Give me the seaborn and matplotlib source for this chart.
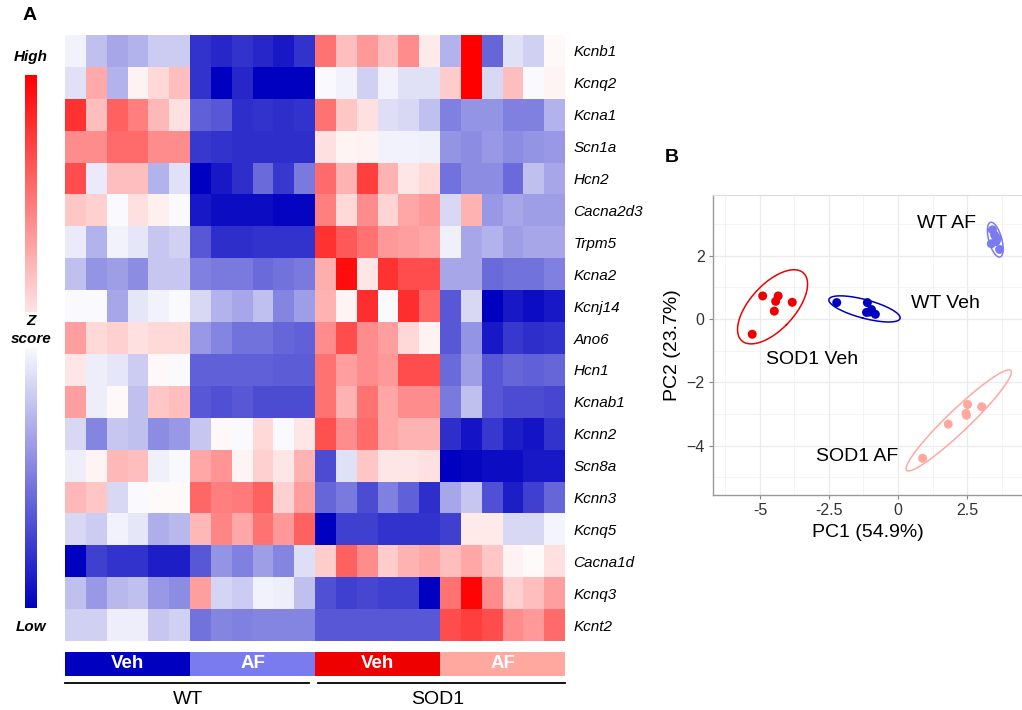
import numpy as np
import pandas as pd
import seaborn as sns
import matplotlib.pyplot as plt
from matplotlib.colors import LinearSegmentedColormap, ListedColormap
from matplotlib.lines import Line2D

plt.rcParams['font.family'] = ['Liberation Sans', 'DejaVu Sans']

genes = ["Kcnb1", "Kcnq2", "Kcna1", "Scn1a", "Hcn2", "Cacna2d3", "Trpm5", "Kcna2",
         "Kcnj14", "Ano6", "Hcn1", "Kcnab1", "Kcnn2", "Scn8a", "Kcnn3", "Kcnq5",
         "Cacna1d", "Kcnq3", "Kcnt2"]

# z scores, one row per gene, 6 animals per group
z_wt_veh = [
    [-0.05, -0.25, -0.35, -0.30, -0.20, -0.20],
    [-0.12, 0.33, -0.30, 0.05, 0.15, 0.25],
    [0.80, 0.25, 0.62, 0.50, 0.28, 0.12],
    [0.45, 0.45, 0.58, 0.58, 0.45, 0.45],
    [0.70, -0.08, 0.25, 0.25, -0.30, -0.12],
    [0.22, 0.18, -0.02, 0.12, 0.06, -0.02],
    [-0.08, -0.30, -0.05, -0.10, -0.22, -0.18],
    [-0.25, -0.42, -0.38, -0.45, -0.22, -0.22],
    [-0.02, -0.02, -0.35, -0.10, -0.05, -0.02],
    [0.38, 0.15, 0.18, 0.12, 0.15, 0.15],
    [0.10, -0.07, -0.10, -0.20, 0.03, -0.02],
    [0.38, -0.07, 0.03, -0.25, 0.22, 0.25],
    [-0.15, -0.48, -0.22, -0.25, -0.45, -0.40],
    [-0.07, 0.04, 0.28, 0.25, -0.06, -0.03],
    [0.28, 0.22, -0.15, -0.02, 0.02, 0.02],
    [-0.15, -0.20, -0.05, -0.10, -0.32, -0.28],
    [-1.00, -0.75, -0.80, -0.80, -0.88, -0.88],
    [-0.25, -0.40, -0.28, -0.25, -0.40, -0.45],
    [-0.18, -0.18, -0.07, -0.07, -0.22, -0.18],
]
z_wt_af = [
    [-0.80, -0.85, -0.80, -0.85, -0.90, -0.80],
    [-0.80, -1.00, -0.85, -1.00, -1.00, -1.00],
    [-0.62, -0.65, -0.82, -0.80, -0.82, -0.80],
    [-0.78, -0.80, -0.82, -0.82, -0.82, -0.82],
    [-1.00, -0.90, -0.82, -0.58, -0.78, -0.52],
    [-0.90, -0.95, -0.95, -0.95, -0.98, -0.98],
    [-0.65, -0.82, -0.82, -0.80, -0.80, -0.80],
    [-0.50, -0.52, -0.52, -0.58, -0.55, -0.52],
    [-0.15, -0.30, -0.35, -0.25, -0.48, -0.38],
    [-0.40, -0.48, -0.55, -0.55, -0.60, -0.62],
    [-0.62, -0.62, -0.62, -0.62, -0.64, -0.64],
    [-0.65, -0.68, -0.65, -0.70, -0.70, -0.70],
    [-0.22, 0.03, -0.02, 0.15, -0.02, 0.10],
    [0.35, 0.42, 0.04, 0.18, 0.10, 0.30],
    [0.60, 0.50, 0.52, 0.62, 0.18, 0.38],
    [0.28, 0.48, 0.35, 0.55, 0.40, 0.62],
    [-0.65, -0.42, -0.50, -0.38, -0.48, -0.13],
    [0.38, -0.17, -0.20, -0.05, -0.07, -0.25],
    [-0.55, -0.48, -0.50, -0.48, -0.48, -0.48],
]
z_sod1_veh = [
    [0.55, 0.25, 0.40, 0.25, 0.45, 0.08],
    [-0.02, -0.05, -0.18, -0.05, -0.12, -0.12],
    [0.55, 0.22, 0.12, -0.13, -0.15, -0.25],
    [0.12, 0.04, 0.05, -0.05, -0.05, -0.06],
    [0.58, 0.30, 0.75, 0.30, 0.10, 0.15],
    [0.50, 0.15, 0.45, 0.17, 0.35, 0.40],
    [0.80, 0.65, 0.55, 0.40, 0.38, 0.35],
    [0.32, 0.95, 0.10, 0.80, 0.70, 0.70],
    [0.30, 0.04, 0.82, -0.02, 0.82, 0.60],
    [0.45, 0.70, 0.45, 0.38, 0.15, 0.05],
    [0.55, 0.38, 0.45, 0.40, 0.70, 0.70],
    [0.55, 0.30, 0.55, 0.35, 0.45, 0.45],
    [0.68, 0.45, 0.58, 0.35, 0.30, 0.30],
    [-0.70, -0.12, 0.22, 0.10, 0.10, 0.12],
    [-0.60, -0.52, -0.70, -0.50, -0.62, -0.82],
    [-1.00, -0.75, -0.75, -0.80, -0.80, -0.80],
    [0.20, 0.62, 0.45, 0.20, 0.30, 0.35],
    [-0.68, -0.75, -0.72, -0.75, -0.75, -1.00],
    [-0.65, -0.65, -0.65, -0.65, -0.65, -0.65],
]
z_sod1_af = [
    [-0.30, 1.00, -0.60, -0.12, -0.18, 0.03],
    [0.20, 1.00, -0.15, 0.25, -0.02, 0.04],
    [-0.50, -0.42, -0.42, -0.50, -0.50, -0.30],
    [-0.42, -0.45, -0.40, -0.45, -0.42, -0.40],
    [-0.55, -0.45, -0.45, -0.58, -0.25, -0.35],
    [-0.15, 0.30, -0.40, -0.35, -0.38, -0.38],
    [-0.06, -0.35, -0.30, -0.38, -0.35, -0.35],
    [-0.35, -0.35, -0.58, -0.55, -0.55, -0.50],
    [-0.65, -0.15, -1.00, -0.90, -0.95, -0.90],
    [-0.65, -0.42, -0.90, -0.78, -0.82, -0.80],
    [-0.58, -0.38, -0.65, -0.60, -0.62, -0.60],
    [-0.52, -0.25, -0.65, -0.70, -0.70, -0.72],
    [-0.82, -0.92, -0.78, -0.88, -0.92, -0.80],
    [-1.00, -0.97, -0.95, -0.95, -0.90, -0.90],
    [-0.35, -0.22, -0.68, -0.88, -0.75, -0.60],
    [-0.75, 0.08, 0.08, -0.15, -0.15, -0.04],
    [0.25, 0.35, 0.22, 0.05, 0.02, 0.12],
    [0.55, 0.98, 0.45, 0.18, 0.25, 0.38],
    [0.70, 0.75, 0.70, 0.45, 0.40, 0.58],
]

# PCA scores
pc1_wt_veh = [-2.22, -1.11, -0.96, -1.14, -0.82, -1.03]
pc2_wt_veh = [0.52, 0.52, 0.30, 0.21, 0.15, 0.22]
pc1_wt_af = [3.42, 3.50, 3.60, 3.38, 3.55, 3.68]
pc2_wt_af = [2.82, 2.65, 2.55, 2.38, 2.45, 2.20]
pc1_sod1_veh = [-4.90, -4.34, -4.43, -4.48, -3.83, -5.28]
pc2_sod1_veh = [0.73, 0.73, 0.56, 0.25, 0.53, -0.48]
pc1_sod1_af = [2.52, 3.03, 2.46, 2.48, 1.82, 0.89]
pc2_sod1_af = [-2.70, -2.77, -2.98, -3.04, -3.32, -4.40]

group_colors = {"WT Veh": "#0000C0", "WT AF": "#7B7BF0",
                "SOD1 Veh": "#EE0000", "SOD1 AF": "#FFA8A0"}

W, H = 1022, 710
fig = plt.figure(figsize=(W / 100, H / 100), dpi=100)


def fx(px):
    return px / W


def fy(py):
    return 1 - py / H


# ---- heatmap (A)
mat = np.hstack([np.array(z_wt_veh), np.array(z_wt_af),
                 np.array(z_sod1_veh), np.array(z_sod1_af)])
df = pd.DataFrame(mat, index=genes)
cmap = LinearSegmentedColormap.from_list("z", ["#0000C0", "#FFFFFF", "#FF0000"])

ax_h = fig.add_axes([fx(65), fy(641), fx(500), 606 / H])
ax_cb = fig.add_axes([fx(25), fy(608), fx(12), 533 / H])
sns.heatmap(df, cmap=cmap, vmin=-1, vmax=1, ax=ax_h, cbar_ax=ax_cb,
            xticklabels=False, yticklabels=True)
ax_h.yaxis.tick_right()
ax_h.set_yticklabels(genes, rotation=0, fontstyle='italic', fontsize=11)
ax_h.tick_params(axis='y', length=0, pad=6)
ax_h.set_ylabel('')
cbar = ax_h.collections[0].colorbar
cbar.outline.set_visible(False)
cbar.set_ticks([])

fig.text(fx(30), fy(15), "A", fontsize=14, fontweight='bold', ha='center', va='center')
fig.text(fx(31), fy(57), "High", fontsize=11, fontweight='bold', fontstyle='italic',
         ha='center', va='center')
fig.text(fx(31), fy(330), "Z\nscore", fontsize=11, fontweight='bold', fontstyle='italic',
         ha='center', va='center', linespacing=1.3,
         bbox=dict(facecolor='white', edgecolor='none', pad=2))
fig.text(fx(31), fy(627), "Low", fontsize=11, fontweight='bold', fontstyle='italic',
         ha='center', va='center')

# group annotation bar
ax_a = fig.add_axes([fx(65), fy(676), fx(500), 24 / H])
codes = [[0] * 6 + [1] * 6 + [2] * 6 + [3] * 6]
sns.heatmap(codes, cmap=ListedColormap(list(group_colors.values())), vmin=-0.5, vmax=3.5,
            cbar=False, ax=ax_a, xticklabels=False, yticklabels=False)
for i, lab in enumerate(["Veh", "AF", "Veh", "AF"]):
    ax_a.text(i * 6 + 3, 0.5, lab, color='white', fontsize=13.5, fontweight='bold',
              ha='center', va='center')

fig.add_artist(Line2D([fx(65), fx(309)], [fy(683), fy(683)], color='black', lw=1.3))
fig.add_artist(Line2D([fx(318), fx(565)], [fy(683), fy(683)], color='black', lw=1.3))
fig.text(fx(188), fy(700), "WT", fontsize=14, ha='center', va='center')
fig.text(fx(438), fy(700), "SOD1", fontsize=14, ha='center', va='center')

# ---- PCA (B)
pca = pd.DataFrame({
    "PC1": pc1_wt_veh + pc1_wt_af + pc1_sod1_veh + pc1_sod1_af,
    "PC2": pc2_wt_veh + pc2_wt_af + pc2_sod1_veh + pc2_sod1_af,
    "group": ["WT Veh"] * 6 + ["WT AF"] * 6 + ["SOD1 Veh"] * 6 + ["SOD1 AF"] * 6,
})

ax_p = fig.add_axes([fx(713), fy(495), fx(309), 300 / H])
sns.scatterplot(data=pca, x="PC1", y="PC2", hue="group", palette=group_colors,
                s=42, edgecolor='none', legend=False, ax=ax_p, zorder=3)

# 95% ellipse per group
t = np.linspace(0, 2 * np.pi, 200)
for g, sub in pca.groupby("group"):
    xy = sub[["PC1", "PC2"]].to_numpy()
    mu = xy.mean(axis=0)
    vals, vecs = np.linalg.eigh(np.cov(xy.T))
    circ = np.vstack([np.cos(t), np.sin(t)]) * np.sqrt(6.5 * vals)[:, None]
    ell = vecs @ circ + mu[:, None]
    ax_p.plot(ell[0], ell[1], color=group_colors[g], lw=1.1, zorder=2)

ax_p.set_xlim(-6.70, 4.49)
ax_p.set_ylim(-5.56, 3.92)
ax_p.set_xticks([-5, -2.5, 0, 2.5])
ax_p.set_xticklabels(["-5", "-2.5", "0", "2.5"])
ax_p.set_xticks([-6.25, -3.75, -1.25, 1.25, 3.75], minor=True)
ax_p.set_yticks([-4, -2, 0, 2])
ax_p.set_yticks([-5, -3, -1, 1, 3], minor=True)
ax_p.grid(which='major', color='#EBEBEB', lw=0.9)
ax_p.grid(which='minor', color='#F2F2F2', lw=0.6)
ax_p.set_axisbelow(True)
ax_p.tick_params(which='major', length=3, color='#888888', labelsize=11.5,
                 labelcolor='#333333', pad=3)
ax_p.tick_params(which='minor', length=0)
for side in ["left", "bottom"]:
    ax_p.spines[side].set_color('#999999')
    ax_p.spines[side].set_linewidth(1.0)
ax_p.spines["top"].set_color('#DDDDDD')
ax_p.spines["right"].set_visible(False)
ax_p.set_xlabel("PC1 (54.9%)", fontsize=14, labelpad=4)
ax_p.set_ylabel("PC2 (23.7%)", fontsize=14, labelpad=4)

for lab, (x, y) in {"WT AF": (1.76, 3.02), "WT Veh": (1.71, 0.50),
                    "SOD1 Veh": (-3.10, -1.27), "SOD1 AF": (-1.47, -4.33)}.items():
    ax_p.text(x, y, lab, fontsize=14, ha='center', va='center')

fig.text(fx(672), fy(158), "B", fontsize=14, fontweight='bold', ha='center', va='center')

fig.savefig("out.png", dpi=100)
